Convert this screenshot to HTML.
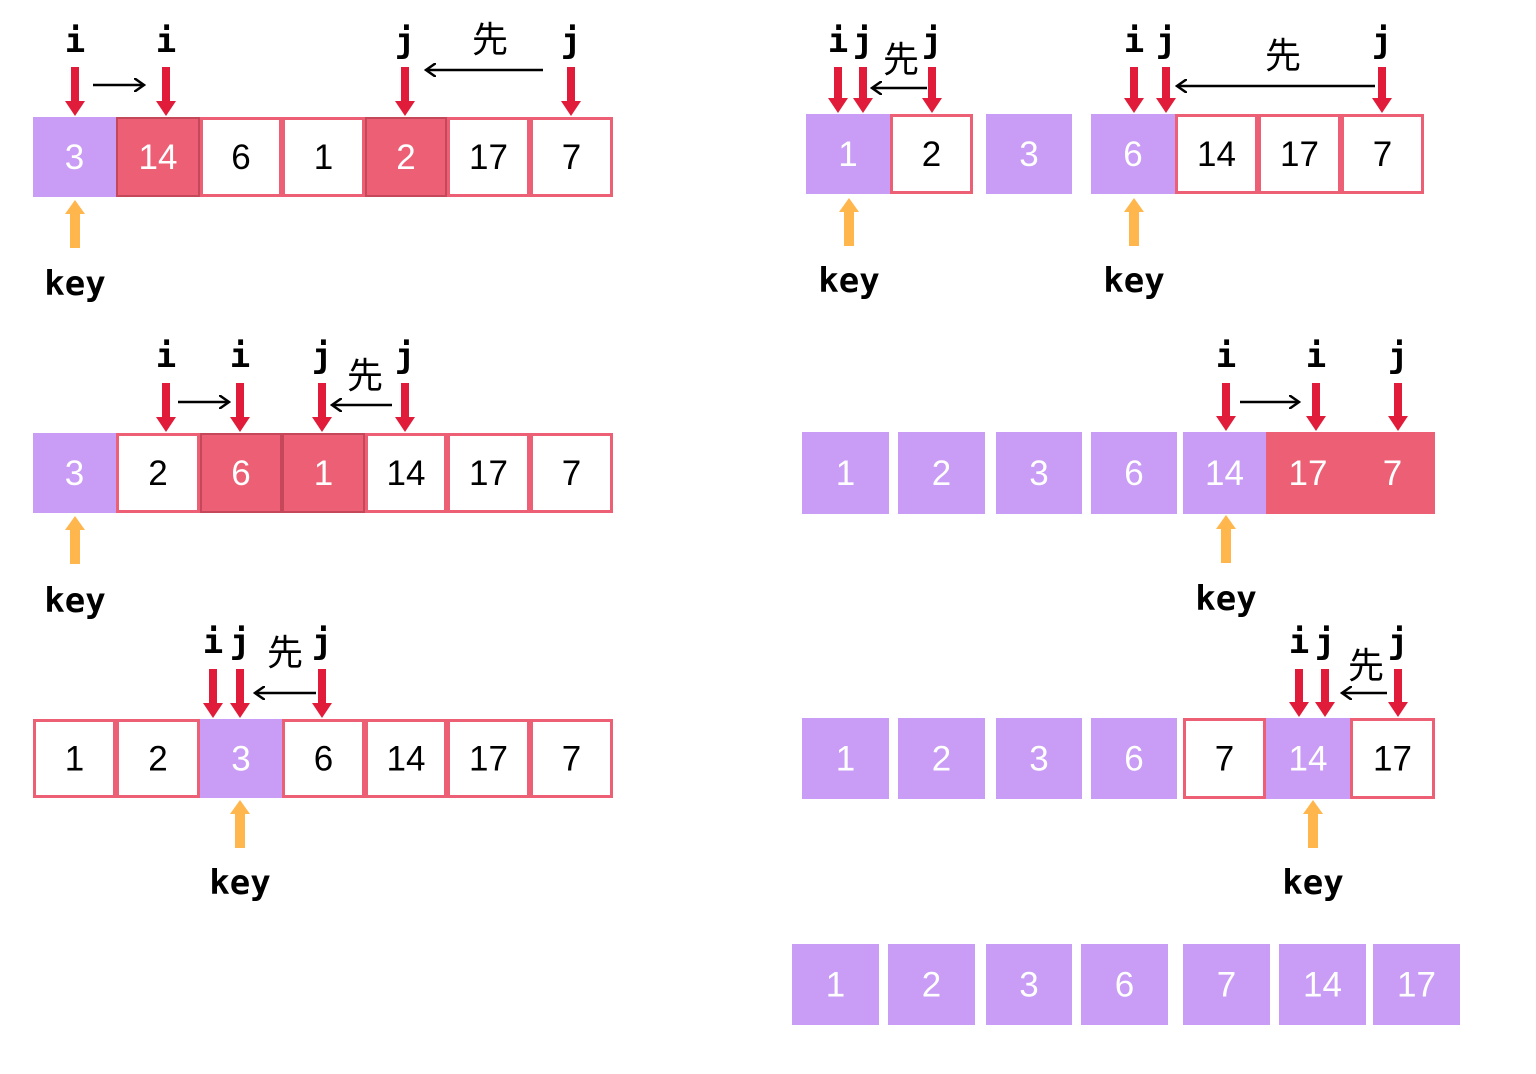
<!DOCTYPE html>
<html><head><meta charset="utf-8"><style>
html,body{margin:0;padding:0;background:#fff;width:1536px;height:1074px;overflow:hidden}
svg text{font-family:"Liberation Sans","Noto Sans CJK SC",sans-serif}
.lbl{font-family:"DejaVu Sans Mono","Liberation Mono",monospace;font-size:34px;font-weight:bold;fill:#000}
.num{font-size:35px}
.cjk{font-family:"Noto Sans CJK SC",sans-serif;font-size:36px}
</style></head><body>
<svg id="s" width="1536" height="1074" xmlns="http://www.w3.org/2000/svg">
<defs>
<marker id="bh" markerWidth="12" markerHeight="14" refX="9" refY="7" orient="auto" markerUnits="userSpaceOnUse"><path d="M0,0 L10,7 L0,14" fill="none" stroke="#000" stroke-width="2.5"/></marker>
</defs>
</svg>
<script>
const NS="http://www.w3.org/2000/svg";
const svg=document.getElementById('s');
const PURPLE="#c99cf5",RED="#ed5f74",ARROW="#e11c3a",ORANGE="#ffb64d";
const panels=[
 {name:'step-1',y:117,h:80,cells:[[33,116,3,'p'],[116,200,14,'r'],[200,282,6,'w'],[282,365,1,'w'],[365,447,2,'r'],[447,530,17,'w'],[530,613,7,'w']],
  ptr:[[75,'i'],[166,'i'],[405,'j'],[571,'j']],lblY:52,top:67,xian:[[490,52]],moves:[[93,143,85],[543,427,70]],key:[75,200,295]},
 {name:'step-2',y:114,h:80,cells:[[806,890,1,'p'],[890,973,2,'w'],[986,1072,3,'p'],[1091,1175,6,'p'],[1175,1258,14,'w'],[1258,1341,17,'w'],[1341,1424,7,'w']],
  ptr:[[838,'i'],[863,'j'],[932,'j'],[1134,'i'],[1166,'j'],[1382,'j']],lblY:52,top:67,xian:[[901,72],[1283,68]],moves:[[927,873,88],[1375,1178,86]],key:[849,198,292],key2:[1134,198,292]},
 {name:'step-3',y:433,h:80,cells:[[33,116,3,'p'],[116,200,2,'w'],[200,282,6,'r'],[282,365,1,'r'],[365,447,14,'w'],[447,530,17,'w'],[530,613,7,'w']],
  ptr:[[166,'i'],[240,'i'],[322,'j'],[405,'j']],lblY:367,top:383,xian:[[365,388]],moves:[[178,228,402],[392,333,405]],key:[75,516,612]},
 {name:'step-4',y:432,h:82,cells:[[802,889,1,'p'],[898,985,2,'p'],[996,1082,3,'p'],[1091,1177,6,'p'],[1183,1266,14,'p'],[1266,1350,17,'R'],[1350,1435,7,'R']],
  ptr:[[1226,'i'],[1316,'i'],[1398,'j']],lblY:367,top:383,xian:[],moves:[[1240,1298,402]],key:[1226,515,610]},
 {name:'step-5',y:719,h:79,cells:[[33,116,1,'w'],[116,200,2,'w'],[200,282,3,'p'],[282,365,6,'w'],[365,447,14,'w'],[447,530,17,'w'],[530,613,7,'w']],
  ptr:[[213,'i'],[240,'j'],[322,'j']],lblY:653,top:669,xian:[[285,665]],moves:[[316,256,693]],key:[240,800,894]},
 {name:'step-6',y:718,h:81,cells:[[802,889,1,'p'],[898,985,2,'p'],[996,1082,3,'p'],[1091,1177,6,'p'],[1183,1266,7,'w'],[1266,1350,14,'p'],[1350,1435,17,'w']],
  ptr:[[1299,'i'],[1325,'j'],[1398,'j']],lblY:653,top:669,xian:[[1366,678]],moves:[[1387,1343,693]],key:[1313,800,894]},
 {name:'sorted-result',y:944,h:81,cells:[[792,879,1,'p'],[888,975,2,'p'],[986,1072,3,'p'],[1081,1168,6,'p'],[1183,1270,7,'p'],[1279,1366,14,'p'],[1373,1460,17,'p']],
  ptr:[],lblY:0,top:0,xian:[],moves:[],key:null}
];
function el(t,a,p){const e=document.createElementNS(NS,t);for(const k in a)e.setAttribute(k,a[k]);(p||svg).appendChild(e);return e;}
panels.forEach(P=>{
 const g=el('g',{});
 
 
 P.cells.forEach(c=>{
  const [x0,x1,v,t]=c;
  let fill=t==='p'?PURPLE:(t==='w'?'#fff':RED);
  const r=el('rect',{x:x0,y:P.y,width:x1-x0,height:P.h,fill:fill},g);
  if(t==='w'){r.setAttribute('x',x0+1.5);r.setAttribute('y',P.y+1.5);r.setAttribute('width',x1-x0-3);r.setAttribute('height',P.h-3);r.setAttribute('stroke',RED);r.setAttribute('stroke-width',3);}
  if(t==='r'){r.setAttribute('x',x0+1);r.setAttribute('y',P.y+1);r.setAttribute('width',x1-x0-2);r.setAttribute('height',P.h-2);r.setAttribute('stroke','#c5475a');r.setAttribute('stroke-width',2);}
  
  
  const tx=el('text',{x:(x0+x1)/2,y:P.y+P.h/2+12,'text-anchor':'middle','class':'num',fill:t==='w'?'#000':'#fff'},g);
  tx.textContent=v;
  
  
 });
 P.ptr.forEach(p=>{
  const [x,l]=p;
  const a=el('path',{d:`M${x-4},${P.top} L${x+4},${P.top} L${x+4},${P.y-16} L${x+10},${P.y-16} L${x},${P.y-1} L${x-10},${P.y-16} L${x-4},${P.y-16} Z`,fill:ARROW},g);
  
  
  const t=el('text',{x:x,y:P.lblY,'text-anchor':'middle','class':'lbl'},g);
  t.textContent=l;
  
  
 });
 P.xian.forEach(q=>{
  const t=el('text',{x:q[0],y:q[1],'text-anchor':'middle','class':'cjk'},g);
  t.textContent='先';
  
  
 });
 P.moves.forEach(m=>{
  const l=el('line',{x1:m[0],y1:m[2],x2:m[1],y2:m[2],stroke:'#000','stroke-width':2.5,'marker-end':'url(#bh)'},g);
  
  
 });
 [P.key,P.key2].forEach(k=>{
  if(!k)return;
  const [x,y0,ty]=k;
  const a=el('path',{d:`M${x},${y0} L${x+10},${y0+14} L${x+5},${y0+14} L${x+5},${y0+48} L${x-5},${y0+48} L${x-5},${y0+14} L${x-10},${y0+14} Z`,fill:ORANGE},g);
  
  
  const t=el('text',{x:x,y:ty,'text-anchor':'middle','class':'lbl','font-size':'36'},g);
  t.textContent='key';
  
  
 });
});
</script>
</body></html>
